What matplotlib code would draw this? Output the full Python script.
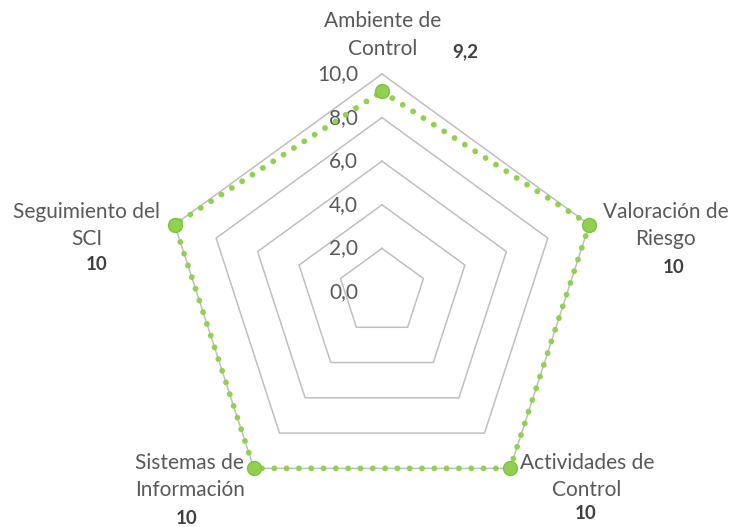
import numpy as np
import matplotlib
matplotlib.use("Agg")
import matplotlib.pyplot as plt

categories = ["Ambiente de\nControl", "Valoración de\nRiesgo", "Actividades de\nControl",
              "Sistemas de\nInformación", "Seguimiento del\nSCI"]
values = [9.2, 10, 10, 10, 10]
value_labels = ["9,2", "10", "10", "10", "10"]
ticks = [0, 2, 4, 6, 8, 10]
tick_labels = ["0,0", "2,0", "4,0", "6,0", "8,0", "10,0"]

plt.rcParams['font.family'] = ['Lato', 'DejaVu Sans']

W, H = 732, 527
fig = plt.figure(figsize=(W / 100, H / 100), dpi=100)
cx, cy, R = 382, 292, 218
ax = fig.add_axes([(cx - R) / W, (H - cy - R) / H, 2 * R / W, 2 * R / H], projection='polar')
ax.set_theta_offset(np.pi / 2)
ax.set_theta_direction(-1)
ax.set_ylim(0, 10)
ax.grid(False)
ax.spines['polar'].set_visible(False)
ax.set_xticks([])
ax.set_yticks([])
ax.patch.set_alpha(0)

n = len(categories)
angles = np.arange(n) * 2 * np.pi / n
closed = np.append(angles, angles[0])

for t in ticks[1:]:
    ax.plot(closed, [t] * (n + 1), color='#BFBFBF', lw=1.1, zorder=1, clip_on=False)

vals_closed = values + values[:1]
ax.plot(closed, vals_closed, color='#92D050', lw=4.2, linestyle=(0, (0.01, 2.1)),
        dash_capstyle='round', zorder=3, clip_on=False)
ax.plot(angles, values, 'o', color='#92D050', markeredgecolor='#7DC242', markersize=10,
        markeredgewidth=1, zorder=4, clip_on=False)

for t, lab in zip(ticks, tick_labels):
    ax.annotate(lab, xy=(0, t), xytext=(-24, 0), textcoords='offset pixels',
                ha='right', va='center', fontsize=15, color='#595959', zorder=2)

cat_offsets = [(1, 39), (76, -1), (77, -8), (-64, -8), (-88, -1)]
for a, cat, off in zip(angles, categories, cat_offsets):
    ax.annotate(cat, xy=(a, 10), xytext=off, textcoords='offset pixels',
                ha='center', va='center', fontsize=15, color='#595959',
                linespacing=1.45, annotation_clip=False)

val_offsets = [(83, 40), (84, -43), (75, -45), (-67, -50), (-78, -40)]
for a, v, lab, off in zip(angles, values, value_labels, val_offsets):
    ax.annotate(lab, xy=(a, v), xytext=off, textcoords='offset pixels',
                ha='center', va='center', fontsize=13.5, fontweight='bold', color='#404040',
                annotation_clip=False)

fig.savefig('out.png', dpi=100)
